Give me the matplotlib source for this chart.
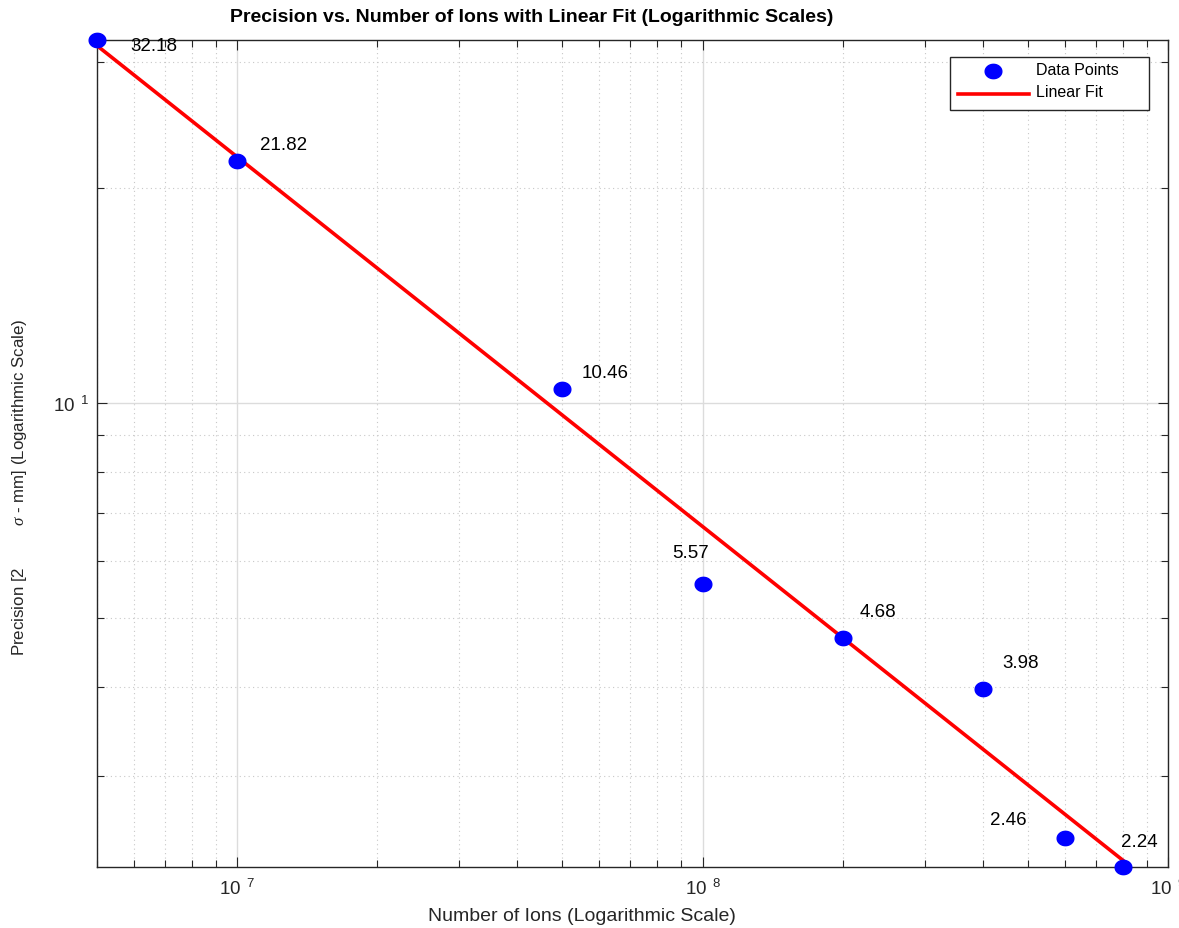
import numpy as np
import matplotlib
matplotlib.use("Agg")
import matplotlib.pyplot as plt
from matplotlib.path import Path
from matplotlib.ticker import LogLocator, NullFormatter, FixedLocator

plt.rcParams["font.family"] = ["Liberation Sans", "DejaVu Sans"]
plt.rcParams["mathtext.fontset"] = "custom"
plt.rcParams["mathtext.rm"] = "Liberation Sans"
plt.rcParams["mathtext.it"] = "Liberation Serif:italic"

# number of ions and measured precision (2 sigma, mm)
ions = [5e6, 1e7, 5e7, 1e8, 2e8, 4e8, 6e8, 8e8]
precision = [32.18, 21.82, 10.46, 5.57, 4.68, 3.98, 2.46, 2.24]

# label offsets in pixels (dx, dy) from each point
label_offsets = [(33, -6), (23, 16), (19, 16), (-30, 32),
                 (17, 27), (20, 26), (-75, 18), (-2, 25)]

x_major = [1e7, 1e8, 1e9]
y_major = [10]

# straight line fit in log-log space
coef = np.polyfit(np.log10(ions), np.log10(precision), 1)
fit_x = np.array([ions[0], ions[-1]])
fit_y = 10 ** np.polyval(coef, np.log10(fit_x))

# slightly flattened dot marker
t = np.linspace(0, 2 * np.pi, 60)
dot = Path(np.column_stack([np.cos(t), 0.86 * np.sin(t)]), closed=True)

fig = plt.figure(figsize=(11.79, 9.29), dpi=100)
ax = fig.add_axes([97 / 1179, 1 - 868 / 929, (1168 - 97) / 1179, (868 - 41) / 929])
ax.set_xscale("log")
ax.set_yscale("log")

ax.plot(fit_x, fit_y, color="red", lw=2.6, label="Linear Fit", zorder=3, clip_on=False)
ax.plot(ions, precision, ls="none", marker=dot, color="blue", ms=12, mec="blue",
        label="Data Points", zorder=4, clip_on=False)

for xv, yv, (dx, dy) in zip(ions, precision, label_offsets):
    ax.annotate(f"{yv:.2f}", (xv, yv), xytext=(dx, dy), textcoords="offset pixels",
                ha="left", va="center", fontsize=13.5)

ax.set_xlim(5e6, 1e9)
ax.set_ylim(2.24, 32.18)

ax.xaxis.set_major_locator(FixedLocator(x_major))
ax.yaxis.set_major_locator(FixedLocator(y_major))
ax.xaxis.set_minor_locator(LogLocator(base=10, subs=np.arange(2, 10), numticks=20))
ax.yaxis.set_minor_locator(LogLocator(base=10, subs=np.arange(2, 10), numticks=20))
ax.xaxis.set_minor_formatter(NullFormatter())
ax.yaxis.set_minor_formatter(NullFormatter())
ax.set_xticklabels([r"$\mathregular{10^{\ \ %d}}$" % int(np.log10(v)) for v in x_major])
ax.set_yticklabels([r"$\mathregular{10^{\ \ %d}}$" % int(np.log10(v)) for v in y_major])

ax.tick_params(which="both", direction="in", top=True, right=True,
               labelsize=13.5, colors="#262626", width=0.8)
ax.tick_params(which="major", length=7)
ax.tick_params(which="minor", length=5)
ax.tick_params(axis="x", which="major", pad=8)
ax.tick_params(axis="y", which="major", pad=6)

ax.grid(which="major", color="#dcdcdc", lw=1.0, ls="-")
ax.grid(which="minor", color="#c8c8c8", lw=0.8, ls=(0, (1, 3)))
for s in ax.spines.values():
    s.set_color("#262626")
    s.set_linewidth(1.0)

handles = ax.get_lines()[::-1]
leg = ax.legend(handles=handles, labels=[h.get_label() + "     " for h in handles],
                loc="upper right",
                bbox_to_anchor=((1149 - 97) / 1071, 1 - (58 - 41) / 827),
                fontsize=11.5, frameon=True, fancybox=False, edgecolor="#262626",
                framealpha=1, handlelength=4.5, borderpad=0.5, borderaxespad=0,
                labelspacing=0.45, handletextpad=0.4)
leg.get_frame().set_linewidth(1.0)
for txt in leg.get_texts():
    txt.set_position((0, 3))

fig.text(532 / 1179, 1 - 17 / 929,
         "Precision vs. Number of Ions with Linear Fit (Logarithmic Scales)",
         ha="center", va="center", fontsize=14, fontweight="bold")
fig.text(582 / 1179, 1 - 917 / 929, "Number of Ions (Logarithmic Scale)",
         ha="center", va="center", fontsize=14, color="#262626")
fig.text(20 / 1179, 1 - 487 / 929,
         r"Precision [2         $\sigma$ - mm] (Logarithmic Scale)",
         ha="center", va="center", rotation=90, fontsize=12.2, color="#262626")

fig.savefig("out.png", dpi=100)
